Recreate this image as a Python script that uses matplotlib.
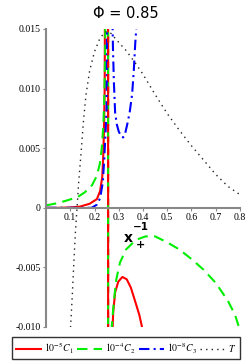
import matplotlib
matplotlib.use("Agg")
import matplotlib.pyplot as plt

plt.rcParams['mathtext.fontset'] = 'stix'

title = "Φ = 0.85"
labels = [r"$10^{-5}C_1$", r"$10^{-4}C_2$", r"$10^{-8}C_3$", r"$T$"]

# 10^-5 C1 (red)
c1_x = [0.0, 0.05, 0.10, 0.14, 0.18, 0.21, 0.223, 0.232, 0.236, 0.239, 0.242, 0.248, 0.256,
        0.2562, 0.265, 0.273, 0.277, 0.285, 0.298, 0.315, 0.333, 0.350, 0.370, 0.385, 0.397, 0.40]
c1_y = [0.0, 0.0, 0.00003, 0.0001, 0.00034, 0.00073, 0.0014, 0.0026, 0.0043, 0.0065, 0.0100, 0.05, 0.2,
        -0.2, -0.03, -0.011, -0.0088, -0.0071, -0.0062, -0.0058, -0.0060, -0.0067, -0.0080, -0.0090, -0.0101, -0.0105]

# 10^-4 C2 (green)
c2_x = [0.0, 0.05, 0.10, 0.13, 0.16, 0.19, 0.21, 0.222, 0.230, 0.236, 0.240, 0.244, 0.250, 0.256,
        0.2562, 0.265, 0.271, 0.280, 0.290, 0.305, 0.330, 0.370, 0.410, 0.450, 0.500, 0.550, 0.600,
        0.650, 0.700, 0.750, 0.780, 0.800]
c2_y = [0.0002, 0.0004, 0.0007, 0.0009, 0.0013, 0.0019, 0.0027, 0.0037, 0.0050, 0.0068, 0.0088, 0.013, 0.05, 0.2,
        -0.2, -0.02, -0.0100, -0.0078, -0.0060, -0.0046, -0.0035, -0.0027, -0.0024, -0.0024, -0.0029, -0.0035, -0.0043,
        -0.0052, -0.0063, -0.0078, -0.0090, -0.0103]

# 10^-8 C3 (blue)
c3_x = [0.0, 0.10, 0.188, 0.209, 0.223, 0.234, 0.240, 0.246, 0.250, 0.252, 0.256, 0.268,
        0.273, 0.276, 0.280, 0.285, 0.292, 0.300, 0.310, 0.318, 0.326, 0.335, 0.345, 0.355, 0.362, 0.368, 0.374, 0.380]
c3_y = [0.0, 0.0, 0.0, 0.00025, 0.0008, 0.0021, 0.0040, 0.0065, 0.0085, 0.016, 0.1, 0.05,
        0.017, 0.0135, 0.0105, 0.0080, 0.0070, 0.0064, 0.0060, 0.0059, 0.0062, 0.0070, 0.0080, 0.0095, 0.0115, 0.0138, 0.0155, 0.018]

# T (black dotted)
t_x = [0.100, 0.108, 0.115, 0.122, 0.128, 0.135, 0.145, 0.155, 0.165, 0.180, 0.200, 0.220, 0.240, 0.255,
       0.270, 0.290, 0.330, 0.370, 0.400, 0.450, 0.500, 0.550, 0.600, 0.650, 0.700, 0.750, 0.800]
t_y = [-0.0105, -0.0075, -0.0045, -0.0018, 0.0, 0.0022, 0.0047, 0.0074, 0.0095, 0.0115, 0.0131, 0.0141, 0.0147, 0.0148,
       0.0146, 0.0141, 0.0132, 0.0121, 0.0112, 0.0095, 0.0079, 0.0065, 0.0052, 0.0040, 0.0028, 0.0018, 0.0011]

yticks = [-0.010, -0.005, 0.0, 0.005, 0.010, 0.015]
ytick_labels = ["-0.010", "-0.005", "0", "0.005", "0.010", "0.015"]
xticks = [0.1, 0.2, 0.3, 0.4, 0.5, 0.6, 0.7, 0.8]
xtick_labels = ["0.1", "0.2", "0.3", "0.4", "0.5", "0.6", "0.7", "0.8"]

fig = plt.figure(figsize=(2.51, 3.64), dpi=100)
ax = fig.add_axes([46/251, 1-327/364, (240-46)/251, (327-29)/364])

h1, = ax.plot(c1_x, c1_y, color='#ff0000', lw=1.5, ls='-')
h2, = ax.plot(c2_x, c2_y, color='#00ee00', lw=1.5, ls=(0, (5, 3)))
h3, = ax.plot(c3_x, c3_y, color='#0000ff', lw=1.5, ls=(0, (5, 2, 1, 2)))
h4, = ax.plot(t_x, t_y, color='#222222', lw=1.0, ls=(0, (1, 3)))
# dashed red over green at the asymptote
ax.plot(c1_x[12:14], c1_y[12:14], color='#ff0000', lw=1.5, ls=(0, (3, 3)))

ax.set_xlim(0, 0.8)
ax.set_ylim(-0.010, 0.015)
for s in ['top', 'right']:
    ax.spines[s].set_visible(False)
ax.spines['bottom'].set_position(('data', 0))
for s in ['left', 'bottom']:
    ax.spines[s].set_color('#888888')
    ax.spines[s].set_linewidth(1.5)

ax.set_yticks(yticks)
ax.set_yticklabels(ytick_labels, family='Liberation Serif', fontsize=7)
ax.set_xticks(xticks)
ax.set_xticklabels(xtick_labels, family='Liberation Serif', fontsize=7)
ax.tick_params(axis='both', length=2, width=0.8, color='#888888', pad=2)

fig.text(0.5, 1-14/364, title, ha='center', va='center', fontsize=10.5, family='DejaVu Sans')

ax.text(0.339, -0.0025, "x", fontsize=10, fontweight='bold', ha='center', va='center', family='DejaVu Sans')
ax.text(0.393, -0.0016, "−1", fontsize=7.5, fontweight='bold', ha='center', va='center', family='DejaVu Sans')
ax.text(0.388, -0.0031, "+", fontsize=8, fontweight='bold', ha='center', va='center', family='DejaVu Sans')

leg = fig.legend([h1, h2, h3, h4], labels, loc='center', ncol=4,
                 bbox_to_anchor=(126/251, 1-348/364), frameon=True, fancybox=False,
                 edgecolor='black', fontsize=7, handlelength=2.6, handletextpad=0.3,
                 columnspacing=0.35, borderpad=0.35, borderaxespad=0)
leg.get_frame().set_linewidth(1.0)

fig.savefig("out.png", dpi=100)
